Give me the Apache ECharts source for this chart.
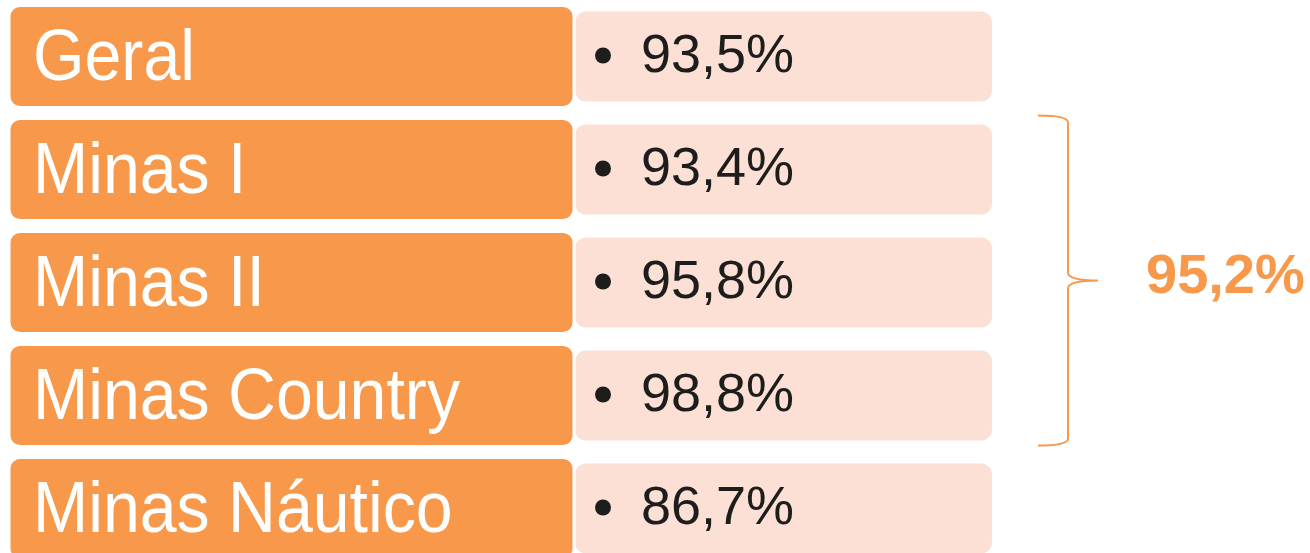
<!DOCTYPE html>
<html>
<head>
<meta charset="utf-8">
<script src="https://cdn.jsdelivr.net/npm/echarts@6/dist/echarts.min.js"></script>
<style>html,body{margin:0;padding:0;background:#fff}#c{width:1310px;height:553px}</style>
</head>
<body>
<div id="c"></div>
<script>
var categories = ['Geral', 'Minas I', 'Minas II', 'Minas Country', 'Minas Náutico'];
var values = [93.5, 93.4, 95.8, 98.8, 86.7];
var groupStart = 1;
var groupEnd = 3;
var groupValue = 95.2;

var ORANGE = '#F7984A';
var PINK = '#FCE0D5';

function fmt(v) { return v.toFixed(1).replace('.', ',') + '%'; }

var chart = echarts.init(document.getElementById('c'), null, {renderer: 'canvas'});
chart.setOption({
  animation: false,
  backgroundColor: '#ffffff',
  grid: {left: 0, right: 0, top: 0, bottom: 0},
  xAxis: {type: 'value', min: 0, max: 1310, show: false},
  yAxis: {type: 'value', inverse: true, min: -0.5, max: 4.394, show: false},
  series: [
    {
      type: 'custom',
      clip: false,
      data: values.map(function (v, i) { return [v, i]; }),
      renderItem: function (params, api) {
        var idx = api.value(1);
        var c = api.coord([0, idx])[1];
        var val = api.value(0);
        return {
          type: 'group',
          children: [
            {type: 'rect', shape: {x: 575, y: c - 45, width: 417, height: 90, r: 11}, style: {fill: PINK}},
            {type: 'rect', shape: {x: 9, y: c - 51, width: 565, height: 102, r: 11}, style: {fill: ORANGE, stroke: '#ffffff', lineWidth: 3}},
            {type: 'text', x: 33, y: c + 4, scaleX: 0.92, style: {text: categories[idx], fill: '#ffffff', font: '72px "Liberation Sans", Arial, sans-serif', align: 'left', verticalAlign: 'middle'}},
            {type: 'circle', shape: {cx: 603, cy: c - 1, r: 8}, style: {fill: '#1d1d1b'}},
            {type: 'text', x: 641, y: c + 1, style: {text: fmt(val), fill: '#1d1d1b', font: '54px "Liberation Sans", Arial, sans-serif', align: 'left', verticalAlign: 'middle'}}
          ]
        };
      }
    },
    {
      type: 'custom',
      clip: false,
      data: [[groupValue, groupStart, groupEnd]],
      renderItem: function (params, api) {
        var s = api.value(1), e = api.value(2);
        var top = api.coord([0, s])[1] - 54;
        var bot = api.coord([0, e])[1] + 50;
        var mid = (top + bot) / 2;
        var xl = 1038, xv = 1068, xp = 1098;
        var d = 'M' + xl + ',' + top +
          ' Q' + xv + ',' + top + ' ' + xv + ',' + (top + 7) +
          ' L' + xv + ',' + (mid - 8) +
          ' Q' + xv + ',' + mid + ' ' + xp + ',' + mid +
          ' Q' + xv + ',' + mid + ' ' + xv + ',' + (mid + 8) +
          ' L' + xv + ',' + (bot - 7) +
          ' Q' + xv + ',' + bot + ' ' + xl + ',' + bot;
        return {
          type: 'group',
          children: [
            {type: 'path', shape: {pathData: d}, style: {fill: 'none', stroke: ORANGE, lineWidth: 2}},
            {type: 'text', x: 1146, y: mid - 3, style: {text: fmt(api.value(0)), fill: ORANGE, font: 'bold 56px "Liberation Sans", Arial, sans-serif', align: 'left', verticalAlign: 'middle'}}
          ]
        };
      }
    }
  ]
});
</script>
</body>
</html>
